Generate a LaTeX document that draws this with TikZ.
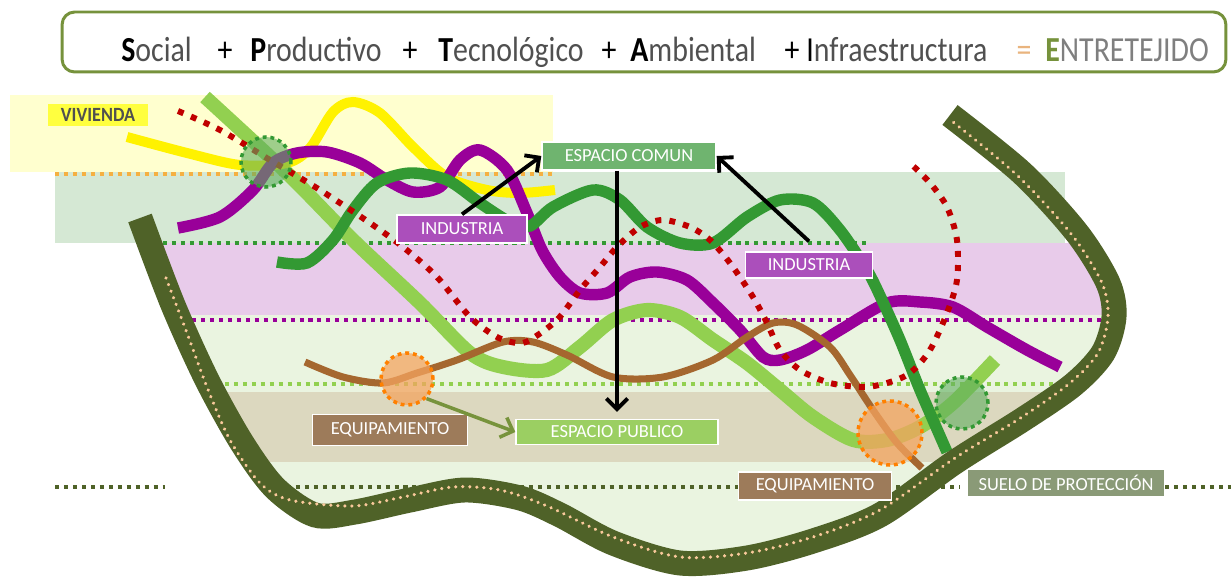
\documentclass[tikz,border=0pt]{standalone}
\usepackage{fontspec}
\usepackage{graphicx}
\setmainfont{Carlito}
\usetikzlibrary{arrows.meta}
\definecolor{bandyellow}{HTML}{FFFFCF}
\definecolor{bandgreen}{HTML}{D5E8D4}
\definecolor{bandpink}{HTML}{E8CBEA}
\definecolor{bandlight}{HTML}{EAF4E0}
\definecolor{bandtan}{HTML}{DCD8BF}
\definecolor{bowlgreen}{HTML}{4F6228}
\definecolor{bowldot}{HTML}{F9C99B}
\definecolor{lgreen}{HTML}{92D050}
\definecolor{dgreen}{HTML}{339933}
\definecolor{purp}{HTML}{990099}
\definecolor{brownl}{HTML}{A5672F}
\definecolor{redd}{HTML}{C00000}
\definecolor{orangedot}{HTML}{F5B041}
\definecolor{viv}{HTML}{FFFF3F}
\definecolor{comun}{HTML}{6FB46F}
\definecolor{indus}{HTML}{AB4FBB}
\definecolor{equip}{HTML}{9D7B5A}
\definecolor{publico}{HTML}{9BCF62}
\definecolor{suelo}{HTML}{8A9A77}
\definecolor{spotgreen}{HTML}{5FAE5F}
\definecolor{spotorange}{HTML}{F4A460}
\definecolor{arrolive}{HTML}{77933C}
\definecolor{titlegreen}{HTML}{76923C}
\definecolor{ttlgray}{HTML}{505050}
\definecolor{ttllight}{HTML}{7F7F7F}
\definecolor{eqtan}{HTML}{E9B47E}
\newcommand{\ttlword}[3][black]{\scalebox{0.85}[1]{\textbf{\textcolor{#1}{#2}}\textcolor{ttlgray}{#3}}}
\begin{document}
\begin{tikzpicture}[x=0.02cm,y=-0.02cm,
  hdots/.style={line width=2.3pt,dash pattern=on 2.3pt off 2.8pt},
  reddots/.style={draw=redd,line width=3.4pt,dash pattern=on 3.4pt off 4.6pt},
  lbl/.style={draw=white,line width=0.8pt,text=white,inner sep=0pt,font=\fontsize{10.5}{12}\selectfont},
  spot/.style={circle,draw=#1,line width=2pt,dash pattern=on 2.2pt off 2.2pt,inner sep=0pt},
  arr/.style={-{Straight Barb[length=6pt,width=12pt]},line width=2.2pt},
  ttl/.style={font=\fontsize{20}{24}\selectfont,inner sep=0pt}]
\useasboundingbox (0,0) rectangle (1231,584);
\fill[bandyellow] (10,95) rectangle (553,172);
\fill[bandgreen] (55,172) rectangle (1065,243);
\begin{scope}
\clip plot[smooth,tension=0.5] coordinates {(140,218) (173,305) (207,380) (242,443) (275,488) (315,515) (355,512) (410,500) (465,490) (520,498) (560,515) (613,543) (680,563) (747,558) (813,541) (880,515) (955,462) (1022,420) (1073,385) (1103,353) (1114,317) (1108,283) (1077,233) (1022,173) (950,115)} -- cycle;
\fill[bandlight] (0,243) rectangle (1231,584);
\fill[bandpink] (0,243) rectangle (1231,315);
\fill[bandtan] (0,392) rectangle (1231,462);
\end{scope}
\draw[hdots,orangedot] (55,174) -- (555,174);
\draw[hdots,dgreen] (163,243) -- (866,243);
\draw[hdots,purp] (192,320) -- (1118,320);
\draw[hdots,lgreen] (198,384) -- (1065,384);
\draw[hdots,bowlgreen] (55,487) -- (165,487);
\draw[hdots,bowlgreen] (287,487) -- (960,487);
\draw[hdots,bowlgreen] (1165,487) -- (1231,487);
\draw[lgreen,line width=8pt] plot[smooth,tension=0.5] coordinates {(205,97) (287,173) (353,240) (420,303) (470,353) (503,367) (547,370) (580,347) (613,320) (647,310) (680,317) (713,340) (747,363) (780,390) (813,417) (853,440) (887,440) (920,427) (953,403) (995,360)};
\draw[yellow,line width=5.7pt] plot[smooth,tension=0.5] coordinates {(127,137) (187,153) (240,165) (287,163) (310,148) (333,112) (353,102) (380,113) (413,147) (447,177) (487,190) (520,193) (555,190)};
\draw[purp,line width=6.5pt] plot[smooth,tension=0.5] coordinates {(178,228) (220,217) (253,190) (273,163) (297,153) (327,152) (360,163) (387,180) (413,192) (440,187) (460,160) (480,150) (507,170) (527,213) (542,250) (560,277) (580,293) (607,293) (630,277) (657,272) (687,280) (713,303) (740,330) (763,357) (780,360) (807,350) (840,330) (887,303) (920,302) (953,307) (987,327) (1027,350) (1060,367)};
\draw[dgreen,line width=6.5pt] plot[smooth,tension=0.5] coordinates {(277,262) (307,263) (333,240) (353,210) (377,183) (410,173) (447,180) (480,203) (510,222) (530,226) (553,207) (593,190) (620,200) (647,227) (680,243) (713,243) (747,217) (780,200) (813,203) (840,230) (867,270) (882,300) (900,340) (920,390) (947,452)};
\draw[brownl,line width=4pt] plot[smooth,tension=0.5] coordinates {(305,362) (343,377) (383,383) (417,373) (457,360) (503,342) (533,342) (567,355) (613,377) (663,377) (713,360) (747,337) (773,323) (797,325) (830,347) (850,375) (873,410) (897,443) (922,468)};
\draw[reddots] plot[smooth,tension=0.5] coordinates {(178,111) (220,130) (270,160) (320,190) (370,223) (403,247) (437,277) (470,317) (497,337) (517,343) (530,340) (557,320) (580,290) (600,267) (617,247) (640,227) (663,220) (690,227) (710,240) (730,263) (753,297) (767,323) (780,350) (800,370) (830,383) (863,387) (887,383) (910,373) (930,350) (947,313) (957,280) (957,240) (947,207) (930,183) (910,163)};
\node[spot=dgreen,fill=spotgreen,fill opacity=0.6,minimum size=1cm] (viv spot) at (266,162) {};
\node[spot=orange,fill=spotorange,fill opacity=0.75,minimum size=1.04cm] (equip spot) at (407,379) {};
\node[spot=orange,fill=spotorange,fill opacity=0.75,minimum size=1.28cm] (equip spot2) at (890,433) {};
\node[spot=dgreen,fill=spotgreen,fill opacity=0.6,minimum size=1.04cm] (suelo spot) at (962,403) {};
\draw[bowlgreen,line width=14.2pt] plot[smooth,tension=0.5] coordinates {(140,218) (173,305) (207,380) (242,443) (275,488) (315,515) (355,512) (410,500) (465,490) (520,498) (560,515) (613,543) (680,563) (747,558) (813,541) (880,515) (955,462) (1022,420) (1073,385) (1103,353) (1114,317) (1108,283) (1077,233) (1022,173) (950,115)};
\draw[bowldot,line width=2pt,line cap=round,dash pattern=on 0.01pt off 4pt] plot[smooth,tension=0.5] coordinates {(166,278) (187,333) (207,387) (230,440) (260,483) (290,500) (353,506) (403,497) (453,487) (500,490) (547,506) (613,537) (680,557) (747,553) (813,537) (880,510) (955,458) (1022,417) (1070,383) (1098,353) (1108,317) (1102,283) (1072,235) (1018,176) (953,122)};
\node[fill=viv,inner sep=0pt,minimum width=2cm,minimum height=0.44cm,text=ttlgray,font=\fontsize{11.5}{13}\selectfont\bfseries] (vivienda) at (98,115) {\scalebox{0.9}[1]{VIVIENDA}};
\node[lbl,fill=comun,minimum width=3.48cm,minimum height=0.56cm] (comun) at (629,156) {ESPACIO COMUN};
\node[lbl,fill=indus,minimum width=2.6cm,minimum height=0.56cm] (ind1) at (462,229) {INDUSTRIA};
\node[lbl,fill=indus,minimum width=2.54cm,minimum height=0.52cm] (ind2) at (809,265) {INDUSTRIA};
\node[lbl,fill=equip,minimum width=3.1cm,minimum height=0.62cm] (eq1) at (390,430) {EQUIPAMIENTO};
\node[lbl,fill=publico,minimum width=4.04cm,minimum height=0.5cm] (pub) at (617,432) {ESPACIO PUBLICO};
\node[lbl,fill=equip,minimum width=3.06cm,minimum height=0.56cm] (eq2) at (815,486) {EQUIPAMIENTO};
\node[lbl,fill=suelo,minimum width=3.94cm,minimum height=0.54cm] (suelo) at (1066,483) {SUELO DE PROTECCIÓN};
\draw[arr] (ind1.north) -- (comun.west);
\draw[arr] ([yshift=0.2cm]ind2.north) -- (comun.east);
\draw[arr] (comun.south -| pub.north) -- ([yshift=0.14cm]pub.north);
\draw[arr,arrolive,line width=2pt] (equip spot.-45) -- (pub.west);
\node[draw=titlegreen,line width=1.7pt,rounded corners=0.25cm,minimum width=23.28cm,minimum height=1.2cm] (frame) at (644,42) {};
\node[ttl,anchor=base west] (w1) at (121,62) {\ttlword{S}{ocial}};
\node[ttl,anchor=base] (p1) at (225,62) {\scalebox{0.85}[1]{+}};
\node[ttl,anchor=base west] (w2) at (250,62) {\ttlword{P}{roductivo}};
\node[ttl,anchor=base] (p2) at (410,62) {\scalebox{0.85}[1]{+}};
\node[ttl,anchor=base west] (w3) at (438,62) {\ttlword{T}{ecnológico}};
\node[ttl,anchor=base] (p3) at (609,62) {\scalebox{0.85}[1]{+}};
\node[ttl,anchor=base west] (w4) at (630,62) {\ttlword{A}{mbiental}};
\node[ttl,anchor=base] (p4) at (792,62) {\scalebox{0.85}[1]{+}};
\node[ttl,anchor=base west] (w5) at (806,62) {\scalebox{0.85}[1]{I\textcolor{ttlgray}{nfraestructura}}};
\node[ttl,anchor=base,text=eqtan] (eq) at (1024,62) {\scalebox{0.85}[1]{=}};
\node[ttl,anchor=base west] (w6) at (1045,62) {\scalebox{0.85}[1]{\textbf{\textcolor{titlegreen}{E}}\textcolor{ttllight}{NTRETEJIDO}}};
\end{tikzpicture}
\end{document}
